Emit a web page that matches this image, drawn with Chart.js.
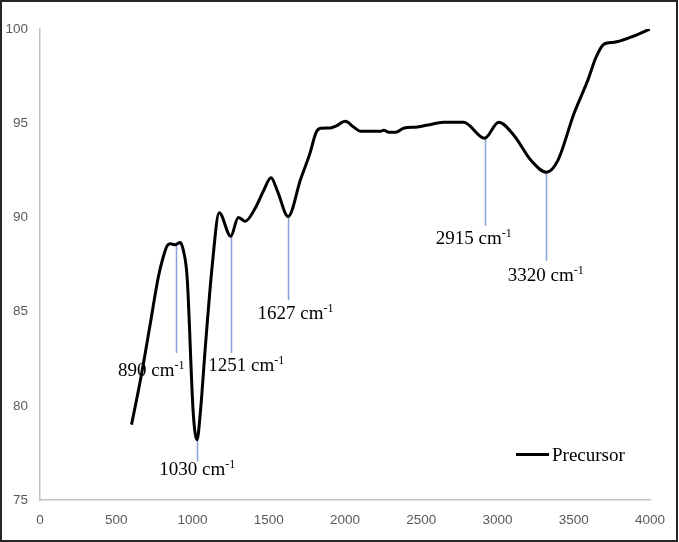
<!DOCTYPE html>
<html>
<head>
<meta charset="utf-8">
<script src="https://cdn.jsdelivr.net/npm/chart.js@4.4.0/dist/chart.umd.min.js"></script>
<style>
  html, body { margin: 0; padding: 0; background: #fff; }
  #wrap { width: 679px; height: 542px; }
</style>
</head>
<body>
<div id="wrap"><canvas id="chart" width="679" height="542"></canvas></div>
<script>
// wavenumber (cm-1) and transmittance
const waveNumbers = [600, 657, 722, 775, 808, 834, 854, 887, 919, 940, 965, 1005, 1030, 1051, 1084, 1130, 1175,
    1251, 1300, 1346, 1412, 1465, 1515, 1557, 1627, 1708, 1770, 1810, 1840, 1905, 1940, 2003, 2056,
    2102, 2233, 2255, 2286, 2332, 2384, 2476, 2542, 2647, 2778, 2915, 3008, 3107, 3219, 3320, 3396,
    3501, 3593, 3646, 3698, 3764, 3875, 4000];
const precursor = [79.0, 81.3, 84.3, 86.8, 87.9, 88.5, 88.6, 88.55, 88.67, 88.25, 86.8, 79.6, 78.2, 79.6, 83.1, 87.5, 90.25,
    89.0, 90.0, 89.8, 90.5, 91.4, 92.1, 91.4, 90.05, 92.0, 93.4, 94.5, 94.73, 94.75, 94.85, 95.1, 94.8,
    94.57, 94.57, 94.63, 94.52, 94.52, 94.73, 94.8, 94.9, 95.05, 95.05, 94.2, 95.05, 94.36, 93.03, 92.4, 93.03,
    95.5, 97.3, 98.5, 99.2, 99.3, 99.57, 100.0];

const xTicks = [0, 500, 1000, 1500, 2000, 2500, 3000, 3500, 4000];
const yTicks = [75, 80, 85, 90, 95, 100];

// peak markers: position, where the line starts/ends, where the label sits
const peakX = [890, 1030, 1251, 1627, 2915, 3320];
const peakTop = [88.6, 78.2, 89.0, 90.05, 94.2, 92.4];
const peakEnd = [82.8, 77.05, 82.8, 85.6, 89.55, 87.7];
const labelX = [729, 1031, 1353, 1675, 2844, 3317];
const labelY = [81.97, 76.7, 82.23, 85.0, 88.94, 86.97];
const labelText = ['890', '1030', '1251', '1627', '2915', '3320'];

const serif = '"Liberation Serif", "Times New Roman", serif';

const extras = {
    id: 'extras',
    beforeDatasetsDraw(chart) {
        const ctx = chart.ctx, xs = chart.scales.x, ys = chart.scales.y;
        ctx.save();
        ctx.strokeStyle = '#86a3d6';
        ctx.lineWidth = 1.5;
        peakX.forEach((p, i) => {
            const px = Math.round(xs.getPixelForValue(p)) + 0.5;
            ctx.beginPath();
            ctx.moveTo(px, ys.getPixelForValue(peakTop[i]));
            ctx.lineTo(px, ys.getPixelForValue(peakEnd[i]));
            ctx.stroke();
        });
        ctx.restore();
    },
    afterDraw(chart) {
        const ctx = chart.ctx, xs = chart.scales.x, ys = chart.scales.y;
        ctx.save();
        ctx.fillStyle = '#000';
        ctx.textBaseline = 'alphabetic';
        labelText.forEach((t, i) => {
            const main = t + ' cm';
            ctx.font = '19px ' + serif;
            const w1 = ctx.measureText(main).width;
            ctx.font = '12px ' + serif;
            const w2 = ctx.measureText('-1').width;
            const cx = xs.getPixelForValue(labelX[i]);
            const cy = ys.getPixelForValue(labelY[i]);
            const x0 = cx - (w1 + w2) / 2;
            ctx.font = '19px ' + serif;
            ctx.fillText(main, x0, cy + 7);
            ctx.font = '12px ' + serif;
            ctx.fillText('-1', x0 + w1, cy);
        });

        // legend
        ctx.strokeStyle = '#000';
        ctx.lineWidth = 3;
        ctx.beginPath();
        ctx.moveTo(516, 454.5);
        ctx.lineTo(549, 454.5);
        ctx.stroke();
        ctx.font = '19px ' + serif;
        ctx.fillText(chart.data.datasets[0].label, 552, 461);

        // outer frame
        ctx.strokeStyle = '#262626';
        ctx.lineWidth = 2;
        ctx.strokeRect(1, 1, 676, 540);
        ctx.restore();
    }
};

const tickFont = {family: '"Liberation Sans", Arial, sans-serif', size: 13.5};

new Chart(document.getElementById('chart'), {
    type: 'line',
    data: {
        datasets: [{
            label: 'Precursor',
            data: waveNumbers.map((w, i) => ({x: w, y: precursor[i]})),
            borderColor: '#000',
            borderWidth: 3,
            pointRadius: 0,
            cubicInterpolationMode: 'monotone',
            fill: false
        }]
    },
    options: {
        responsive: false,
        animation: false,
        layout: {padding: {top: 29, right: 29, left: 0, bottom: 0}},
        plugins: {legend: {display: false}, tooltip: {enabled: false}},
        scales: {
            x: {
                type: 'linear',
                min: 0,
                max: 4000,
                grid: {display: false},
                border: {color: '#bfbfbf', width: 1.5},
                afterBuildTicks: (s) => { s.ticks = xTicks.map(v => ({value: v})); },
                afterFit: (s) => { s.height = 42; },
                ticks: {color: '#595959', padding: 4, maxRotation: 0, font: tickFont,
                    callback: (v) => String(v)}
            },
            y: {
                min: 75,
                max: 100,
                grid: {display: false},
                border: {color: '#bfbfbf', width: 1.5},
                afterBuildTicks: (s) => { s.ticks = yTicks.map(v => ({value: v})); },
                afterFit: (s) => { s.width = 40; },
                ticks: {color: '#595959', padding: 4, font: tickFont,
                    callback: (v) => String(v)}
            }
        }
    },
    plugins: [extras]
});
</script>
</body>
</html>
